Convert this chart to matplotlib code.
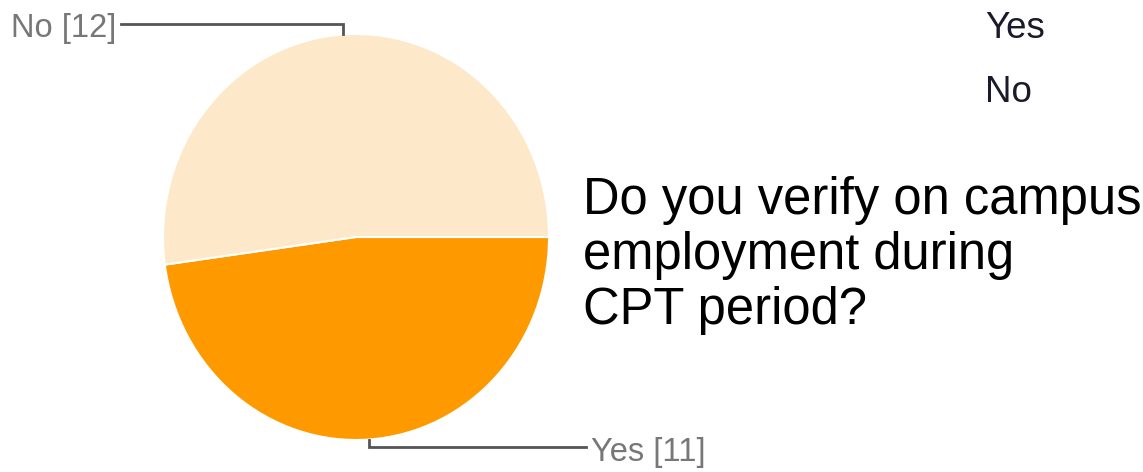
import numpy as np
import matplotlib.pyplot as plt

plt.rcParams['font.family'] = ['Liberation Sans', 'DejaVu Sans']

# survey answers
labels = ["Yes", "No"]
counts = [11, 12]
colors = ["#FF9900", "#FDE8CA"]
question = ["Do you verify on campus", "employment during", "CPT period?"]

W, H = 1143, 472
fig = plt.figure(figsize=(W / 100, H / 100), dpi=100)

# pie area (slightly taller than wide)
ax = fig.add_axes([163 / W, (H - 440) / H, 386 / W, 406 / H])
wedges, _ = ax.pie(counts, colors=colors, startangle=0, counterclock=False,
                   radius=1.0, wedgeprops=dict(edgecolor="white", linewidth=1.5))
ax.set_aspect("auto")
ax.set_xlim(-1, 1)
ax.set_ylim(-1, 1)

# leader lines from each wedge midpoint
lead = {"Yes": (-1.034, 1.19, "left", -0.03), "No": (1.05, -1.22, "right", -0.025)}
for w, lab, n in zip(wedges, labels, counts):
    mid = np.deg2rad((w.theta1 + w.theta2) / 2)
    x0, y0 = np.cos(mid), np.sin(mid)
    ly, lx, ha, dy = lead[lab]
    ax.plot([x0, x0, lx], [y0, ly, ly], color="#555555", lw=2, clip_on=False,
            solid_joinstyle="miter")
    off = 0.03 if ha == "left" else -0.02
    ax.text(lx + off, ly + dy, f"{lab} [{n}]", ha=ha, va="center",
            fontsize=23.5, color="#777777", clip_on=False)

# legend entries on the right
fig.text(985 / W, 1 - 28 / H, "Yes", fontsize=26.5, color="#1a1a2a", va="center")
fig.text(985 / W, 1 - 93 / H, "No", fontsize=26.5, color="#1a1a2a", va="center")

# question text, one line at a time
for i, line in enumerate(question):
    fig.text(583 / W, 1 - (214 + 55 * i) / H, line, fontsize=36.5,
             color="black", va="baseline")

fig.savefig("out.png", dpi=100, facecolor="white")
